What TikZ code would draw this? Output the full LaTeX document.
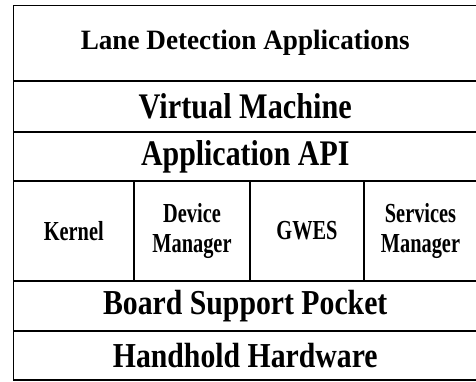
\documentclass[tikz,border=0pt]{standalone}
\usepackage{graphicx}
\usepackage{fontspec}
\setmainfont{Liberation Serif}
\newcommand\cx[2]{\scalebox{#1}[1]{#2}}
\newcommand\cxx[2]{\raisebox{4.5pt}{\scalebox{#1}[1]{\begin{tabular}{@{}c@{}}#2\end{tabular}}}}
\begin{document}
\begin{tikzpicture}[x=1pt,y=-1pt,
  cell/.style={draw=black, line width=1.3pt, rectangle, inner sep=0pt, align=center},
  big/.style={font=\bfseries\fontsize{36}{40}\selectfont},
  small/.style={font=\bfseries\fontsize{27.5}{30}\selectfont}]
\useasboundingbox (0,0) rectangle (476,381);
\node[cell, minimum width=463.5pt, minimum height=75.5pt, font=\bfseries\fontsize{28}{32}\selectfont] (lane) at (245.25,43.25) {\raisebox{1.5pt}{\cx{0.97}{Lane Detection Applications}}};
\node[cell, minimum width=463.5pt, minimum height=51pt, big] (vm) at (245.25,106.5) {\cx{0.84}{Virtual Machine}};
\node[cell, minimum width=463.5pt, minimum height=49pt, big] (api) at (245.25,156.5) {\cx{0.83}{Application API}};
\node[cell, minimum width=120.5pt, minimum height=100pt, small] (kernel) at (73.75,231) {\cx{0.74}{Kernel}};
\node[cell, minimum width=116pt, minimum height=100pt, small] (dev) at (192,231) {\cxx{0.74}{Device\\Manager}};
\node[cell, minimum width=114pt, minimum height=100pt, small] (gwes) at (307,231) {\cx{0.74}{GWES}};
\node[cell, minimum width=113pt, minimum height=100pt, small] (svc) at (420.5,231) {\cxx{0.74}{Services\\Manager}};
\node[cell, minimum width=463.5pt, minimum height=50pt, font=\bfseries\fontsize{35}{38}\selectfont] (bsp) at (245.25,306) {\cx{0.85}{Board Support Pocket}};
\node[cell, minimum width=463.5pt, minimum height=49pt, font=\bfseries\fontsize{35}{38}\selectfont] (hw) at (245.25,355.5) {\cx{0.85}{Handhold Hardware}};
\end{tikzpicture}
\end{document}
